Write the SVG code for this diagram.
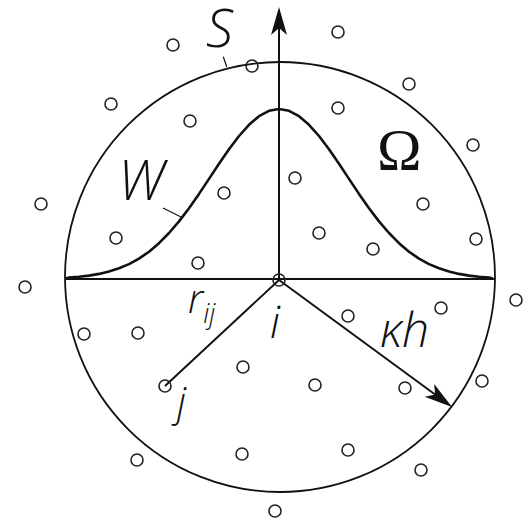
<svg xmlns="http://www.w3.org/2000/svg" width="529" height="520" viewBox="0 0 529 520">
<style>
.pt{fill:none;stroke:#222;stroke-width:1.6}
.ln{fill:none;stroke:#111;stroke-width:2}
.lb{font-family:"Open Sans","DejaVu Sans",sans-serif;font-style:italic;font-weight:300;fill:#111}
.lead{stroke:#111;stroke-width:1.2}
</style>
<defs>
<marker id="ah" markerUnits="userSpaceOnUse" markerWidth="40" markerHeight="20" viewBox="-10 -10 40 20" refX="0" refY="0" orient="auto" overflow="visible">
<path d="M21,0 L-7,-8 L0,0 L-7,8 Z" fill="#111"/>
</marker>
</defs>
<rect width="529" height="520" fill="#fff"/>
<g id="domain">
<circle cx="280" cy="277" r="215" fill="none" stroke="#111" stroke-width="1.8"/>
</g>
<g id="kernel">
<path d="M66,278.5 L69,277.6 L79,276.8 L89,275.6 L99,273.9 L109,271.5 L119,268.3 L129,264.1 L139,258.6 L149,251.7 L159,243.2 L169,233 L179,221.4 L189,208.2 L199,193.9 L209,178.9 L219,163.8 L229,149.3 L239,136 L249,124.8 L259,116.2 L269,110.8 L279,109 L289,110.8 L299,116.2 L309,124.8 L319,136 L329,149.3 L339,163.8 L349,178.9 L359,193.9 L369,208.2 L379,221.4 L389,233 L399,243.2 L409,251.7 L419,258.6 L429,264.1 L439,268.3 L449,271.5 L459,273.9 L469,275.6 L479,276.8 L489,277.6 L493,278.5" fill="none" stroke="#111" stroke-width="2.6" stroke-linejoin="round"/>
</g>
<g id="connectors">
<line class="ln" x1="66" y1="279" x2="495" y2="279" stroke-width="2.4"/>
<line class="ln" x1="279" y1="279" x2="279" y2="28" marker-end="url(#ah)"/>
<line class="ln" x1="279" y1="280" x2="165" y2="386" stroke-width="1.6"/>
<line class="ln" x1="279" y1="280" x2="435.1" y2="394.5" stroke-width="1.8" marker-end="url(#ah)"/>
<line class="lead" x1="223.3" y1="56.7" x2="226.7" y2="66.7"/>
<line class="lead" x1="163" y1="208" x2="183" y2="218"/>
</g>
<g id="particles">
<circle class="pt" cx="173" cy="45" r="6"/>
<circle class="pt" cx="252" cy="66" r="6"/>
<circle class="pt" cx="111" cy="104" r="6"/>
<circle class="pt" cx="190" cy="121" r="6"/>
<circle class="pt" cx="41" cy="204" r="6"/>
<circle class="pt" cx="224" cy="193" r="6"/>
<circle class="pt" cx="116" cy="238" r="6"/>
<circle class="pt" cx="198" cy="263" r="6"/>
<circle class="pt" cx="338" cy="32" r="6"/>
<circle class="pt" cx="409" cy="84" r="6"/>
<circle class="pt" cx="338" cy="108" r="6"/>
<circle class="pt" cx="473" cy="145" r="6"/>
<circle class="pt" cx="295" cy="178" r="6"/>
<circle class="pt" cx="423" cy="204" r="6"/>
<circle class="pt" cx="319" cy="233" r="6"/>
<circle class="pt" cx="373" cy="249" r="6"/>
<circle class="pt" cx="476" cy="239" r="6"/>
<circle class="pt" cx="25" cy="287" r="6"/>
<circle class="pt" cx="84" cy="334" r="6"/>
<circle class="pt" cx="138" cy="333" r="6"/>
<circle class="pt" cx="243" cy="367" r="6"/>
<circle class="pt" cx="137" cy="460" r="6"/>
<circle class="pt" cx="242" cy="454" r="6"/>
<circle class="pt" cx="516" cy="300" r="6"/>
<circle class="pt" cx="441" cy="308" r="6"/>
<circle class="pt" cx="348" cy="316" r="6"/>
<circle class="pt" cx="315" cy="385" r="6"/>
<circle class="pt" cx="405" cy="388" r="6"/>
<circle class="pt" cx="482" cy="381" r="6"/>
<circle class="pt" cx="348" cy="450" r="6"/>
<circle class="pt" cx="421" cy="470" r="6"/>
<circle class="pt" cx="275" cy="511" r="6"/>
</g>
<g id="node-i">
<circle class="pt" cx="279" cy="280" r="6"/>
<text class="lb" x="270" y="338" font-size="44">i</text>
</g>
<g id="node-j">
<circle class="pt" cx="165" cy="386" r="6"/>
<text class="lb" x="177" y="416" font-size="40">j</text>
</g>
<g id="labels">
<text class="lb" x="206" y="47" font-size="54">S</text>
<text class="lb" x="118" y="200" font-size="55">W</text>
<text x="377" y="170" font-family="'Liberation Serif',serif" font-size="60" fill="#111">Ω</text>
<text class="lb" x="188" y="313" font-size="40">r<tspan font-size="27" dy="10">ij</tspan></text>
<text class="lb" x="380" y="347" font-size="48">κh</text>
</g>
</svg>
